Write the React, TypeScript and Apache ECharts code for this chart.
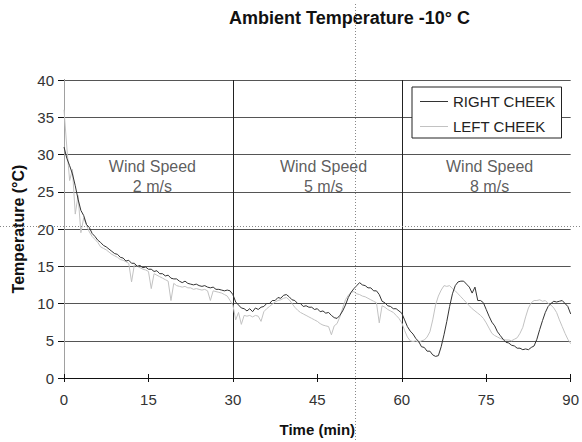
import React, { useEffect, useRef } from "react";
import * as echarts from "echarts";

// Time axis (min), sampled every half minute
const timeMin = [
  0, 0.5, 1, 1.5, 2, 2.5, 3, 3.5, 4, 4.5, 5, 5.5, 6, 6.5, 7, 7.5, 8, 8.5, 9, 9.5,
  10, 10.5, 11, 11.5, 12, 12.5, 13, 13.5, 14, 14.5, 15, 15.5, 16, 16.5, 17, 17.5, 18, 18.5, 19, 19.5,
  20, 20.5, 21, 21.5, 22, 22.5, 23, 23.5, 24, 24.5, 25, 25.5, 26, 26.5, 27, 27.5, 28, 28.5, 29, 29.5,
  30, 30.5, 31, 31.5, 32, 32.5, 33, 33.5, 34, 34.5, 35, 35.5, 36, 36.5, 37, 37.5, 38, 38.5, 39, 39.5,
  40, 40.5, 41, 41.5, 42, 42.5, 43, 43.5, 44, 44.5, 45, 45.5, 46, 46.5, 47, 47.5, 48, 48.5, 49, 49.5,
  50, 50.5, 51, 51.5, 52, 52.5, 53, 53.5, 54, 54.5, 55, 55.5, 56, 56.5, 57, 57.5, 58, 58.5, 59, 59.5,
  60, 60.5, 61, 61.5, 62, 62.5, 63, 63.5, 64, 64.5, 65, 65.5, 66, 66.5, 67, 67.5, 68, 68.5, 69, 69.5,
  70, 70.5, 71, 71.5, 72, 72.5, 73, 73.5, 74, 74.5, 75, 75.5, 76, 76.5, 77, 77.5, 78, 78.5, 79, 79.5,
  80, 80.5, 81, 81.5, 82, 82.5, 83, 83.5, 84, 84.5, 85, 85.5, 86, 86.5, 87, 87.5, 88, 88.5, 89, 89.5,
  90,
];

// RIGHT CHEEK temperature (°C)
const rightCheek = [
  31.0, 29.5, 28.5, 27.4, 25.8, 24.0, 22.5, 21.8, 20.6, 20.2, 19.4, 19.0, 18.5, 18.2, 17.8, 17.6, 17.3, 17.0, 16.7, 16.6,
  16.2, 16.1, 15.7, 15.8, 15.4, 15.4, 15.0, 15.1, 14.8, 14.9, 14.6, 14.6, 14.3, 14.4, 14.0, 14.0, 13.7, 13.8, 13.4, 13.3,
  13.3, 13.0, 12.8, 13.0, 12.7, 12.6, 12.5, 12.6, 12.4, 12.3, 12.4, 12.2, 12.1, 12.2, 11.9, 11.9, 11.8, 11.7, 11.8, 11.7,
  11.2, 10.2, 9.8, 9.4, 9.3, 9.0, 9.3, 8.9, 9.4, 9.2, 9.5, 9.6, 10.0, 10.0, 10.4, 10.4, 10.8, 10.7, 11.1, 11.2,
  10.9, 10.5, 10.4, 10.0, 10.0, 9.6, 9.7, 9.5, 9.5, 9.2, 9.3, 8.9, 9.0, 8.7, 8.8, 8.4, 8.1, 8.0, 8.4, 9.0,
  9.8, 10.8, 11.5, 12.0, 12.4, 12.8, 12.5, 12.4, 12.1, 12.1, 11.7, 11.7, 11.2, 10.3, 10.1, 9.7, 9.6, 9.3, 9.3, 9.0,
  8.7, 7.8, 6.9, 6.3, 5.9, 5.3, 4.9, 4.2, 4.1, 3.6, 3.6, 3.1, 2.9, 3.0, 4.2, 5.8, 7.6, 9.6, 11.3, 12.4,
  12.9, 13.0, 13.0, 12.6, 12.2, 11.4, 12.2, 10.4, 10.4, 10.1, 9.2, 8.3, 7.5, 7.0, 6.2, 5.7, 5.2, 4.8, 4.7, 4.4,
  4.3, 4.0, 4.0, 3.8, 3.9, 3.8, 4.1, 4.3, 5.2, 6.5, 7.7, 8.8, 9.6, 10.0, 10.3, 10.2, 10.3, 10.4, 10.0, 9.6,
  8.6,
];

// LEFT CHEEK temperature (°C)
const leftCheek = [
  36.0, 31.0, 26.5, 28.0, 22.0, 24.5, 19.5, 21.5, 20.5, 19.6, 19.0, 18.6, 18.2, 17.6, 17.4, 17.2, 16.9, 16.6, 16.4, 16.2,
  15.9, 15.8, 15.6, 15.4, 12.9, 15.2, 15.0, 14.8, 14.6, 14.5, 14.3, 12.0, 14.0, 13.8, 13.6, 13.4, 13.2, 13.0, 10.4, 12.7,
  12.4, 12.3, 12.2, 12.3, 12.1, 12.1, 11.9, 12.0, 11.9, 11.8, 11.9, 11.7, 10.4, 11.7, 11.6, 11.5, 11.4, 11.2, 11.0, 10.4,
  9.8, 7.8, 8.8, 7.2, 8.4, 8.3, 8.4, 8.2, 8.4, 8.3, 7.6, 8.9, 9.3, 9.6, 9.9, 10.2, 10.4, 10.5, 10.7, 10.8,
  10.5, 10.0, 9.5, 9.1, 8.8, 8.6, 8.4, 8.2, 8.0, 7.8, 7.6, 7.3, 7.1, 7.0, 6.9, 5.8, 7.0, 7.3, 8.2, 9.4,
  10.5, 11.1, 11.5, 11.6, 11.3, 11.2, 11.0, 10.9, 10.7, 10.5, 10.3, 10.1, 7.4, 9.7, 9.5, 9.2, 9.0, 8.8, 8.4, 8.0,
  7.4, 6.4, 5.5, 5.0, 4.9, 5.0, 4.8, 5.0, 5.1, 5.5, 6.2, 7.8, 9.8, 11.0, 11.8, 12.4, 12.3, 12.4, 12.0, 11.7,
  11.3, 10.9, 10.5, 10.1, 9.7, 9.3, 9.0, 8.7, 8.4, 8.0, 7.4, 6.7, 6.0, 5.7, 5.5, 5.3, 5.2, 5.1, 5.1, 5.0,
  5.2, 5.4, 6.0, 6.8, 8.2, 9.4, 10.1, 10.4, 10.4, 10.5, 10.3, 10.4, 10.0, 9.8, 9.4, 8.8, 7.8, 6.9, 6.0, 5.2,
  4.6,
];

// Phase annotations
const windSpeeds = ["2 m/s", "5 m/s", "8 m/s"];
const windLabelTimes = [15.7, 46.1, 75.6];
const windLabelTemp = 27.1;
const phaseBoundaries = [30, 60];

const xTicks = { min: 0, max: 90, interval: 15 };
const yTicks = { min: 0, max: 40, interval: 5 };

const FONT = "'Liberation Sans', Arial, Helvetica, sans-serif";

export default function App() {
  const ref = useRef<HTMLDivElement>(null);

  useEffect(() => {
    if (!ref.current) return;
    const chart = echarts.init(ref.current, undefined, { renderer: "svg" });

    const rightData = timeMin.map((t, i) => [t, rightCheek[i]]);
    const leftData = timeMin.map((t, i) => [t, leftCheek[i]]);
    const windData = windLabelTimes.map((t, i) => [t, windLabelTemp, windSpeeds[i]]);

    chart.setOption({
      animation: false,
      backgroundColor: "#fff",
      textStyle: { fontFamily: FONT },
      title: {
        text: "Ambient Temperature -10° C",
        left: 229,
        top: 9,
        padding: 0,
        textStyle: { fontFamily: FONT, fontSize: 18, fontWeight: "bold", color: "#111" },
      },
      legend: {
        data: ["RIGHT CHEEK", "LEFT CHEEK"],
        orient: "vertical",
        left: 412,
        top: 87,
        padding: [7, 6, 4, 8],
        itemGap: 10,
        itemWidth: 28,
        itemHeight: 1,
        itemTextGap: 9,
        icon: "rect",
        borderColor: "#222",
        borderWidth: 1,
        backgroundColor: "#fff",
        textStyle: { fontFamily: FONT, fontSize: 15, color: "#222" },
      },
      grid: { left: 64, right: 7, top: 80, bottom: 62 },
      xAxis: [
        {
          type: "value",
          ...xTicks,
          name: "Time (min)",
          nameLocation: "middle",
          nameGap: 44,
          nameTextStyle: { fontFamily: FONT, fontSize: 15, fontWeight: "bold", color: "#111" },
          axisLine: { show: true, onZero: false, lineStyle: { color: "#111", width: 1 } },
          axisTick: { show: true, length: 4, lineStyle: { color: "#111" } },
          axisLabel: { fontFamily: FONT, fontSize: 15, color: "#333", margin: 14 },
          splitLine: { show: false },
        },
        {
          type: "value",
          ...xTicks,
          position: "bottom",
          axisLine: { show: false },
          axisTick: { show: true, inside: true, length: 4, lineStyle: { color: "#111" } },
          axisLabel: { show: false },
          splitLine: { show: false },
        },
      ],
      yAxis: [
        {
          type: "value",
          ...yTicks,
          name: "Temperature (°C)",
          nameLocation: "middle",
          nameGap: 38,
          nameRotate: 90,
          nameTextStyle: { fontFamily: FONT, fontSize: 16, fontWeight: "bold", color: "#111" },
          axisLine: { show: true, onZero: false, lineStyle: { color: "#111", width: 1 } },
          axisTick: { show: true, length: 6, lineStyle: { color: "#111" } },
          axisLabel: { fontFamily: FONT, fontSize: 15, color: "#333", margin: 10 },
          splitLine: { show: true, lineStyle: { color: "#555", width: 1 } },
        },
        {
          type: "value",
          ...yTicks,
          position: "right",
          axisLine: { show: true, lineStyle: { color: "#a0a0a0", width: 1 } },
          axisTick: { show: false },
          axisLabel: { show: false },
          splitLine: { show: false },
        },
      ],
      series: [
        {
          name: "LEFT CHEEK",
          type: "line",
          data: leftData,
          showSymbol: false,
          color: "#c2c2c2",
          lineStyle: { width: 1, color: "#c2c2c2" },
          z: 3,
        },
        {
          name: "RIGHT CHEEK",
          type: "line",
          data: rightData,
          showSymbol: false,
          color: "#333",
          lineStyle: { width: 1, color: "#333" },
          z: 4,
          markLine: {
            silent: true,
            symbol: "none",
            label: { show: false },
            lineStyle: { color: "#222", type: "solid", width: 1 },
            data: phaseBoundaries.map((b) => ({ xAxis: b })),
            z: 2,
          },
        },
        {
          name: "wind",
          type: "scatter",
          data: windData,
          symbolSize: 0,
          silent: true,
          z: 2,
          label: {
            show: true,
            position: "inside",
            formatter: (p: any) => "Wind Speed\n" + p.data[2],
            fontFamily: FONT,
            fontSize: 16,
            lineHeight: 20,
            color: "#333",
          },
        },
      ],
      graphic: [
        {
          type: "line",
          shape: { x1: 355.5, y1: 4, x2: 355.5, y2: 442 },
          style: { stroke: "#888", lineWidth: 1, lineDash: [1, 2] },
          z: 100,
          silent: true,
        },
        {
          type: "line",
          shape: { x1: 0, y1: 226.5, x2: 582, y2: 226.5 },
          style: { stroke: "#888", lineWidth: 1, lineDash: [1, 2] },
          z: 100,
          silent: true,
        },
      ],
    });

    return () => chart.dispose();
  }, []);

  return (
    <div
      ref={ref}
      style={{ position: "fixed", left: 0, top: 0, width: 582, height: 442 }}
    />
  );
}
